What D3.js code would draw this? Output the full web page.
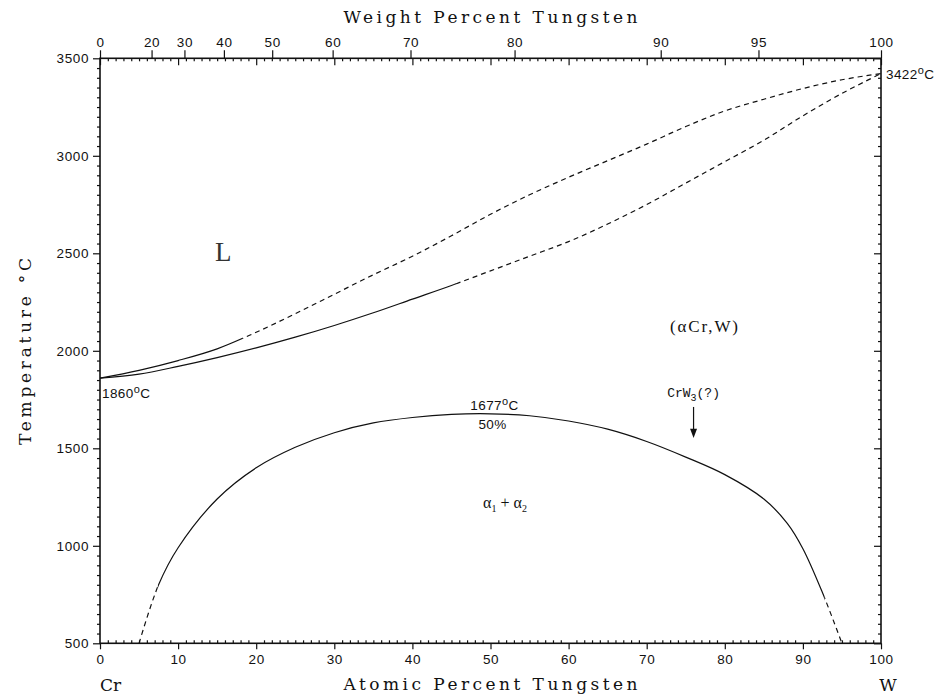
<!DOCTYPE html>
<html><head><meta charset="utf-8">
<script src="https://cdn.jsdelivr.net/npm/d3@7"></script>
<style>body{margin:0;background:#fff}svg{display:block}</style>
</head><body>
<svg id="c" width="943" height="697"></svg>
<script>
// ---- data ----
const atTicksMajor = [0,10,20,30,40,50,60,70,80,90,100];
const tempTicksMajor = [500,1000,1500,2000,2500,3000,3500];
const wtTickLabels = [0,20,30,40,50,60,70,80,90,95,100];
const liquidusAt = [0,5,10,15,20,25,30,35,40,45,50,55,60,65,70,75,80,85,90,95,100];
const liquidusT  = [1860,1900,1950,2010,2095,2190,2290,2390,2485,2590,2700,2800,2890,2975,3060,3150,3230,3290,3345,3390,3422];
const solidusAt  = [0,5,10,15,20,25,30,35,40,45,50,55,60,65,70,75,80,85,90,95,100];
const solidusT   = [1860,1880,1920,1965,2015,2070,2130,2195,2265,2335,2410,2485,2560,2650,2750,2860,2970,3080,3205,3320,3422];
const gapAt = [5,7.5,10,15,20,25,30,35,40,45,50,55,60,65,70,75,80,85,88,90,92.5,95];
const gapT  = [500,800,990,1240,1400,1505,1580,1630,1658,1674,1677,1667,1640,1598,1535,1455,1365,1240,1115,985,760,500];
const liquidusSolidUntil = 18.3;
const solidusSolidUntil = 45.7;
const gapSolidRange = [7.4, 92.8];
const MW_W = 183.84, MW_Cr = 51.996;

// ---- setup ----
const svg = d3.select("#c");
const L = 100, R = 881, T = 58.3, B = 643.3;
const x = d3.scaleLinear().domain([0,100]).range([L,R]);
const y = d3.scaleLinear().domain([500,3500]).range([B,T]);
const wtToAt = w => { if (w<=0) return 0; if (w>=100) return 100; const a=w/MW_W, b=(100-w)/MW_Cr; return 100*a/(a+b); };

const tickFont = "'Liberation Sans', Arial, sans-serif";
const monoFont = "'Liberation Mono', 'DejaVu Sans Mono', monospace";
const titleFont = "'DejaVu Serif', 'Liberation Serif', serif";
const serifFont = "'Liberation Serif', 'DejaVu Serif', serif";

function styleAxis(g){
  g.select(".domain").remove();
  g.selectAll(".tick line").attr("stroke","#111").attr("stroke-width",1.2);
  g.selectAll(".tick text").attr("font-family",tickFont).attr("font-size",13.5)
    .attr("letter-spacing",0.6).attr("fill","#111");
}
const minorAt = d3.range(0,101,1).filter(v=>v%10!==0);
const minorT = d3.range(500,3501,50).filter(v=>v%500!==0);

// bottom axis
svg.append("g").attr("transform",`translate(0,${B})`)
  .call(d3.axisBottom(x).tickValues(atTicksMajor).tickSize(6).tickPadding(5).tickFormat(d3.format("d"))).call(styleAxis);
svg.append("g").attr("transform",`translate(0,${B})`)
  .call(d3.axisTop(x).tickValues(minorAt).tickSize(3).tickFormat("")).call(styleAxis);
// top axis: atomic mirror (inward) + weight percent (outward)
svg.append("g").attr("transform",`translate(0,${T})`)
  .call(d3.axisBottom(x).tickValues(atTicksMajor).tickSize(7).tickFormat("")).call(styleAxis);
svg.append("g").attr("transform",`translate(0,${T})`)
  .call(d3.axisBottom(x).tickValues(minorAt).tickSize(3).tickFormat("")).call(styleAxis);
const wtPos = wtTickLabels.map(wtToAt);
svg.append("g").attr("transform",`translate(0,${T})`)
  .call(d3.axisTop(x).tickValues(wtPos).tickSize(8).tickPadding(3)
    .tickFormat((d,i)=>String(wtTickLabels[i]))).call(styleAxis);
// left axis
svg.append("g").attr("transform",`translate(${L},0)`)
  .call(d3.axisLeft(y).tickValues(tempTicksMajor).tickSize(7).tickPadding(4).tickFormat(d3.format("d"))).call(styleAxis);
svg.append("g").attr("transform",`translate(${L},0)`)
  .call(d3.axisLeft(y).tickValues(minorT).tickSize(3).tickFormat("")).call(styleAxis);
// right axis (inward)
svg.append("g").attr("transform",`translate(${R},0)`)
  .call(d3.axisLeft(y).tickValues(tempTicksMajor).tickSize(7).tickFormat("")).call(styleAxis);
svg.append("g").attr("transform",`translate(${R},0)`)
  .call(d3.axisLeft(y).tickValues(minorT).tickSize(3).tickFormat("")).call(styleAxis);

// frame
svg.append("rect").attr("x",L).attr("y",T).attr("width",R-L).attr("height",B-T)
  .attr("fill","none").attr("stroke","#111").attr("stroke-width",1.6);

// clip paths
const defs = svg.append("defs");
function clip(id, a0, a1){
  defs.append("clipPath").attr("id",id).append("rect")
    .attr("x",x(a0)).attr("y",T-20).attr("width",x(a1)-x(a0)).attr("height",B-T+40);
}
clip("liqS",0,liquidusSolidUntil); clip("liqD",liquidusSolidUntil,100);
clip("solS",0,solidusSolidUntil); clip("solD",solidusSolidUntil,100);
clip("gapS",gapSolidRange[0],gapSolidRange[1]);
clip("gapD1",0,gapSolidRange[0]); clip("gapD2",gapSolidRange[1],100);

const line = d3.line().x(d=>x(d[0])).y(d=>y(d[1])).curve(d3.curveCatmullRom.alpha(0.5));
function drawCurve(ats, ts, solidClip, dashClips){
  const pts = ats.map((a,i)=>[a,ts[i]]);
  svg.append("path").datum(pts).attr("d",line).attr("fill","none").attr("stroke","#111")
    .attr("stroke-width",1.2).attr("clip-path",`url(#${solidClip})`);
  dashClips.forEach(c=>{
    svg.append("path").datum(pts).attr("d",line).attr("fill","none").attr("stroke","#111")
      .attr("stroke-width",1.2).attr("stroke-dasharray","5,4").attr("clip-path",`url(#${c})`);
  });
}
drawCurve(liquidusAt, liquidusT, "liqS", ["liqD"]);
drawCurve(solidusAt, solidusT, "solS", ["solD"]);
drawCurve(gapAt, gapT, "gapS", ["gapD1","gapD2"]);

// ---- texts ----
svg.append("text").attr("x",(L+R)/2).attr("y",23).attr("text-anchor","middle")
  .attr("font-family",titleFont).attr("font-size",17).attr("textLength",294).attr("fill","#111")
  .text("Weight Percent Tungsten");
svg.append("text").attr("x",(L+R)/2).attr("y",690).attr("text-anchor","middle")
  .attr("font-family",titleFont).attr("font-size",17).attr("textLength",294).attr("fill","#111")
  .text("Atomic Percent Tungsten");
svg.append("text").attr("transform",`translate(31,${(258+445)/2}) rotate(-90)`).attr("text-anchor","middle")
  .attr("font-family",titleFont).attr("font-size",17).attr("textLength",187).attr("fill","#111")
  .text("Temperature °C");
svg.append("text").attr("x",x(0)).attr("y",691).attr("font-family",titleFont).attr("font-size",17)
  .attr("fill","#111").text("Cr");
svg.append("text").attr("x",x(100)+7).attr("y",691).attr("text-anchor","middle").attr("font-family",titleFont)
  .attr("font-size",17).attr("fill","#111").text("W");

function degLabel(xp, yp, num, anchor){
  const t = svg.append("text").attr("x",xp).attr("y",yp).attr("font-family",tickFont)
    .attr("font-size",13.5).attr("letter-spacing",0.4).attr("fill","#111").attr("text-anchor",anchor||"start");
  t.append("tspan").text(num);
  t.append("tspan").attr("dy",-5).attr("font-size",11).text("o");
  t.append("tspan").attr("dy",5).text("C");
  return t;
}
degLabel(x(0)+2, y(1860)+20, "1860");
degLabel(x(100)+5, y(3422)+5, "3422");
degLabel(x(50)+4, y(1677)-4, "1677", "middle");
svg.append("text").attr("x",x(50)+2).attr("y",y(1677)+15).attr("text-anchor","middle")
  .attr("font-family",tickFont).attr("font-size",13.5).attr("letter-spacing",0.4).attr("fill","#111").text("50%");

svg.append("text").attr("x",215).attr("y",261).attr("font-family",serifFont).attr("font-size",27)
  .attr("fill","#333").text("L");
svg.append("text").attr("x",670).attr("y",332).attr("font-family",serifFont).attr("font-size",17)
  .attr("textLength",68).attr("fill","#111").text("(αCr,W)");
const a12 = svg.append("text").attr("x",505).attr("y",508).attr("text-anchor","middle")
  .attr("font-family",serifFont).attr("font-size",16).attr("fill","#111");
a12.append("tspan").text("α");
a12.append("tspan").attr("dy",4).attr("font-size",10).text("1");
a12.append("tspan").attr("dy",-4).text("  +  α");
a12.append("tspan").attr("dy",4).attr("font-size",10).text("2");

// CrW3(?) with arrow
const crw = svg.append("text").attr("x",x(76)).attr("y",397).attr("text-anchor","middle")
  .attr("font-family",monoFont).attr("font-size",13).attr("fill","#111");
crw.append("tspan").text("CrW");
crw.append("tspan").attr("dy",4).attr("font-size",10).text("3");
crw.append("tspan").attr("dy",-4).text("(?)");
svg.append("line").attr("x1",x(76)).attr("x2",x(76)).attr("y1",y(1712)).attr("y2",y(1590))
  .attr("stroke","#111").attr("stroke-width",1.2);
svg.append("path").attr("d",d3.line()([[x(76)-3.5,y(1600)],[x(76)+3.5,y(1600)],[x(76),y(1553)]])+"Z")
  .attr("fill","#111");
</script>
</body></html>
